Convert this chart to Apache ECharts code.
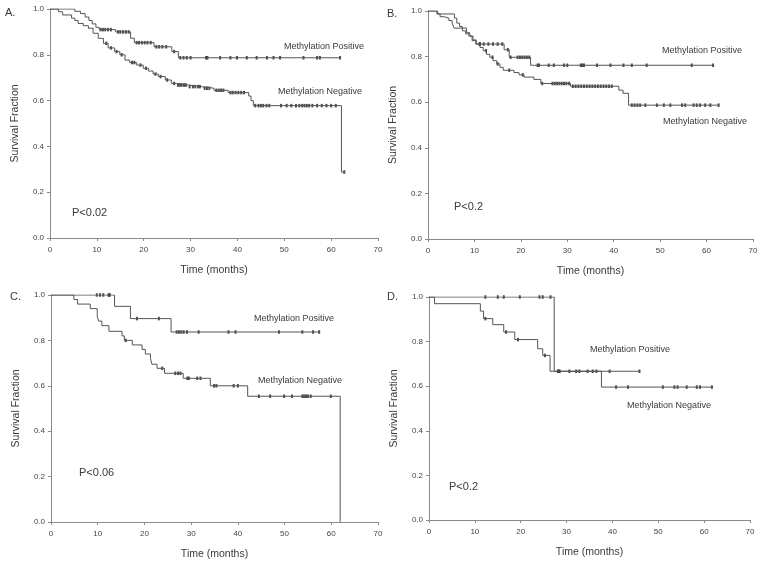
<!DOCTYPE html>
<html>
<head>
<meta charset="utf-8">
<script src="https://cdn.jsdelivr.net/npm/echarts@6/dist/echarts.min.js"></script>
<style>
html,body{margin:0;padding:0;background:#fff;}
#chart{width:763px;height:567px;}
</style>
</head>
<body>
<div id="chart"></div>
<script>
// ---- Data (time in months, survival fraction after each event) ----
const xTicks = [0, 10, 20, 30, 40, 50, 60, 70];
const yTicks = [0.0, 0.2, 0.4, 0.6, 0.8, 1.0];

// Panel A
const aPosT = [5.3, 6.5, 7.5, 8.3, 9.0, 9.8, 10.5, 14.0, 17.2, 18.0, 22.2, 26.0, 27.4];
const aPosS = [0.99, 0.98, 0.965, 0.95, 0.935, 0.92, 0.91, 0.90, 0.872, 0.853, 0.835, 0.814, 0.787];
const aPosEnd = 62;
const aPosC = [10.8, 11.3, 11.8, 12.4, 13.0, 14.5, 15.0, 15.6, 16.2, 16.8, 18.5, 19.0, 19.6, 20.2, 20.8, 21.5, 22.7, 23.3, 24.0, 24.8, 26.5, 27.8, 28.5, 29.2, 30.0, 33.3, 33.6, 36.3, 38.5, 39.9, 42.0, 44.1, 46.3, 47.7, 49.1, 54.1, 57.0, 57.6, 61.9];
const aNegT = [1.8, 2.7, 4.6, 5.3, 6.0, 7.1, 8.2, 9.2, 10.3, 11.4, 12.4, 13.8, 14.9, 16.0, 17.0, 18.5, 19.9, 21.0, 22.0, 23.1, 24.6, 25.9, 27.0, 29.5, 32.3, 35.0, 38.0, 42.4, 42.9, 43.4, 62.2];
const aNegS = [0.988, 0.974, 0.96, 0.95, 0.937, 0.927, 0.916, 0.894, 0.872, 0.85, 0.83, 0.814, 0.8, 0.777, 0.766, 0.755, 0.741, 0.729, 0.716, 0.705, 0.69, 0.675, 0.668, 0.661, 0.654, 0.645, 0.635, 0.62, 0.60, 0.578, 0.288];
const aNegEnd = 63;
const aNegC = [12.0, 13.0, 14.2, 15.3, 17.5, 18.0, 19.3, 20.5, 22.5, 23.6, 25.0, 26.5, 27.3, 27.7, 28.1, 28.6, 29.0, 29.8, 30.5, 31.0, 31.6, 32.0, 33.0, 33.5, 34.0, 35.5, 36.0, 36.5, 37.0, 38.5, 39.0, 39.6, 40.2, 40.8, 41.4, 43.8, 44.5, 45.0, 45.5, 46.2, 46.8, 49.3, 50.5, 51.5, 52.5, 53.2, 53.8, 54.3, 54.8, 55.3, 56.0, 57.0, 58.0, 59.0, 60.0, 61.0, 62.8];

// Panel B
const bPosT = [2.1, 5.7, 6.2, 6.8, 7.4, 8.1, 8.8, 9.5, 10.3, 16.4, 17.5, 22.1];
const bPosS = [0.987, 0.969, 0.947, 0.932, 0.913, 0.90, 0.89, 0.87, 0.855, 0.83, 0.797, 0.762];
const bPosEnd = 61.4;
const bPosC = [11.2, 12.0, 13.0, 14.0, 15.0, 16.0, 17.2, 17.8, 19.3, 19.8, 20.3, 20.8, 21.3, 21.8, 23.6, 23.9, 26.0, 27.1, 29.3, 30.0, 32.9, 33.2, 33.6, 36.4, 39.3, 42.1, 43.9, 47.1, 56.8, 61.4];
const bNegT = [1.9, 2.6, 3.5, 4.5, 5.2, 5.6, 8.3, 9.0, 9.7, 10.4, 11.2, 11.9, 12.6, 13.3, 14.0, 14.8, 15.5, 16.2, 18.5, 19.6, 20.7, 22.8, 24.3, 30.7, 41.1, 42.0, 43.2];
const bNegS = [0.987, 0.975, 0.969, 0.958, 0.947, 0.925, 0.905, 0.89, 0.873, 0.855, 0.84, 0.826, 0.81, 0.797, 0.782, 0.768, 0.753, 0.74, 0.73, 0.72, 0.71, 0.70, 0.682, 0.67, 0.653, 0.639, 0.587];
const bNegEnd = 62.6;
const bNegC = [11.1, 12.5, 13.9, 15.0, 17.5, 20.4, 24.6, 26.8, 27.3, 27.8, 28.3, 28.8, 29.3, 29.8, 30.4, 31.2, 31.8, 32.4, 33.0, 33.6, 34.2, 34.8, 35.4, 36.0, 36.6, 37.2, 37.8, 38.4, 39.0, 39.6, 43.9, 44.5, 45.1, 45.7, 46.8, 49.3, 50.8, 52.2, 54.7, 55.4, 57.2, 57.9, 58.6, 59.7, 60.8, 62.6];

// Panel C
const cPosT = [13.6, 17.0, 25.7];
const cPosS = [0.95, 0.896, 0.837];
const cPosEnd = 57.4;
const cPosC = [9.8, 10.5, 11.2, 12.3, 12.6, 18.4, 23.1, 26.9, 27.4, 27.9, 28.4, 29.1, 31.6, 38.0, 39.5, 48.8, 53.8, 56.1, 57.4];
const cNegT = [4.9, 5.7, 8.4, 9.9, 10.2, 10.9, 12.4, 15.2, 15.7, 17.4, 19.5, 20.2, 21.3, 21.6, 22.7, 24.3, 28.3, 34.1, 42.1, 61.9];
const cNegS = [0.98, 0.96, 0.94, 0.905, 0.885, 0.865, 0.84, 0.82, 0.80, 0.78, 0.76, 0.74, 0.72, 0.695, 0.677, 0.655, 0.633, 0.60, 0.554, 0];
const cNegEnd = 61.9;
const cNegC = [16.0, 23.8, 26.6, 27.2, 27.7, 29.2, 29.5, 31.3, 32.0, 34.9, 35.4, 39.1, 40.0, 44.5, 46.9, 49.9, 51.6, 53.8, 54.2, 54.6, 55.0, 55.6, 59.9];

// Panel D
const dPosT = [27.3];
const dPosS = [0.667];
const dPosEnd = 45.9;
const dPosC = [12.3, 15.0, 16.3, 19.8, 24.1, 24.8, 26.5, 28.1, 28.5, 30.6, 32.1, 32.8, 34.6, 35.7, 36.5, 39.4, 45.9];
const dNegT = [1.2, 11.2, 11.9, 13.9, 16.3, 18.7, 23.7, 24.8, 26.4, 37.6];
const dNegS = [0.97, 0.937, 0.903, 0.876, 0.843, 0.809, 0.768, 0.738, 0.667, 0.596];
const dNegEnd = 61.7;
const dNegC = [12.3, 16.8, 19.4, 25.3, 28.3, 40.8, 43.4, 51.0, 53.5, 54.2, 56.2, 58.4, 59.1, 61.7];

const panels = [
  {id:'A', pos:[aPosT,aPosS,aPosEnd,aPosC], neg:[aNegT,aNegS,aNegEnd,aNegC], p:'P<0.02'},
  {id:'B', pos:[bPosT,bPosS,bPosEnd,bPosC], neg:[bNegT,bNegS,bNegEnd,bNegC], p:'P<0.2'},
  {id:'C', pos:[cPosT,cPosS,cPosEnd,cPosC], neg:[cNegT,cNegS,cNegEnd,cNegC], p:'P<0.06'},
  {id:'D', pos:[dPosT,dPosS,dPosEnd,dPosC], neg:[dNegT,dNegS,dNegEnd,dNegC], p:'P<0.2'}
];

// ---- Layout ----
const grids = [
  {left:50, top:9, width:328, height:229},
  {left:428, top:11, width:325, height:228},
  {left:51, top:295, width:327, height:227},
  {left:429, top:297, width:321, height:223}
];
const FONT = '"Liberation Sans", Arial, sans-serif';
const AXIS_COLOR = '#8a8a8a';
const TEXT_COLOR = '#3a3a3a';

function stepLine(T, S, end) {
  const pts = [[0, 1]];
  for (let i = 0; i < T.length; i++) pts.push([T[i], S[i]]);
  const last = pts[pts.length - 1];
  if (end > last[0]) pts.push([end, last[1]]);
  return pts;
}
function survAt(T, S, t) {
  let s = 1;
  for (let i = 0; i < T.length; i++) if (T[i] <= t + 1e-9) s = S[i];
  return s;
}
function censorPts(T, S, C) { return C.map(t => [t, survAt(T, S, t)]); }

const xAxes = [], yAxes = [], series = [];
panels.forEach((p, i) => {
  xAxes.push({
    gridIndex:i, type:'value', min:0, max:70, interval:10,
    name:'Time (months)', nameLocation:'middle', nameGap:27,
    nameTextStyle:{fontFamily:FONT, fontSize:10.5, color:TEXT_COLOR},
    axisLine:{lineStyle:{color:AXIS_COLOR, width:1}},
    axisTick:{show:true, length:3, lineStyle:{color:AXIS_COLOR}},
    axisLabel:{fontFamily:FONT, fontSize:8, color:'#444', margin:8},
    splitLine:{show:false}
  });
  yAxes.push({
    gridIndex:i, type:'value', min:0, max:1, interval:0.2,
    name:'Survival Fraction', nameLocation:'middle', nameGap:29,
    nameTextStyle:{fontFamily:FONT, fontSize:10.5, color:TEXT_COLOR},
    axisLine:{show:true, lineStyle:{color:AXIS_COLOR, width:1}},
    axisTick:{show:true, length:3, lineStyle:{color:AXIS_COLOR}},
    axisLabel:{fontFamily:FONT, fontSize:8, color:'#444', margin:6,
      formatter: v => v.toFixed(1)},
    splitLine:{show:false}
  });
  [['Methylation Positive', p.pos], ['Methylation Negative', p.neg]].forEach(([nm, d]) => {
    series.push({
      name:nm + ' ' + p.id, type:'line', step:'end', xAxisIndex:i, yAxisIndex:i,
      data:stepLine(d[0], d[1], d[2]), showSymbol:false, silent:true,
      lineStyle:{color:'#555', width:1}
    });
    series.push({
      name:nm + ' censored ' + p.id, type:'scatter', xAxisIndex:i, yAxisIndex:i,
      data:censorPts(d[0], d[1], d[3]), symbol:'rect', symbolSize:[2, 3.5],
      itemStyle:{color:'#222'}, silent:true
    });
  });
});

function txt(x, y, s, size) {
  return {type:'text', left:x, top:y, style:{text:s, fontFamily:FONT, fontSize:size, fill:TEXT_COLOR}};
}
const labels = [
  txt(5, 7, 'A.', 11), txt(387, 8, 'B.', 11), txt(10, 291, 'C.', 11), txt(387, 291, 'D.', 11),
  txt(284, 42, 'Methylation Positive', 9), txt(278, 87, 'Methylation Negative', 9),
  txt(662, 46, 'Methylation Positive', 9), txt(663, 117, 'Methylation Negative', 9),
  txt(254, 314, 'Methylation Positive', 9), txt(258, 376, 'Methylation Negative', 9),
  txt(590, 345, 'Methylation Positive', 9), txt(627, 401, 'Methylation Negative', 9),
  txt(72, 207, panels[0].p, 11), txt(454, 201, panels[1].p, 11),
  txt(79, 467, panels[2].p, 11), txt(449, 481, panels[3].p, 11)
];

const chart = echarts.init(document.getElementById('chart'), null, {renderer:'canvas'});
chart.setOption({
  backgroundColor:'#fff',
  animation:false,
  grid:grids,
  xAxis:xAxes,
  yAxis:yAxes,
  series:series,
  graphic:labels
});
</script>
</body>
</html>
